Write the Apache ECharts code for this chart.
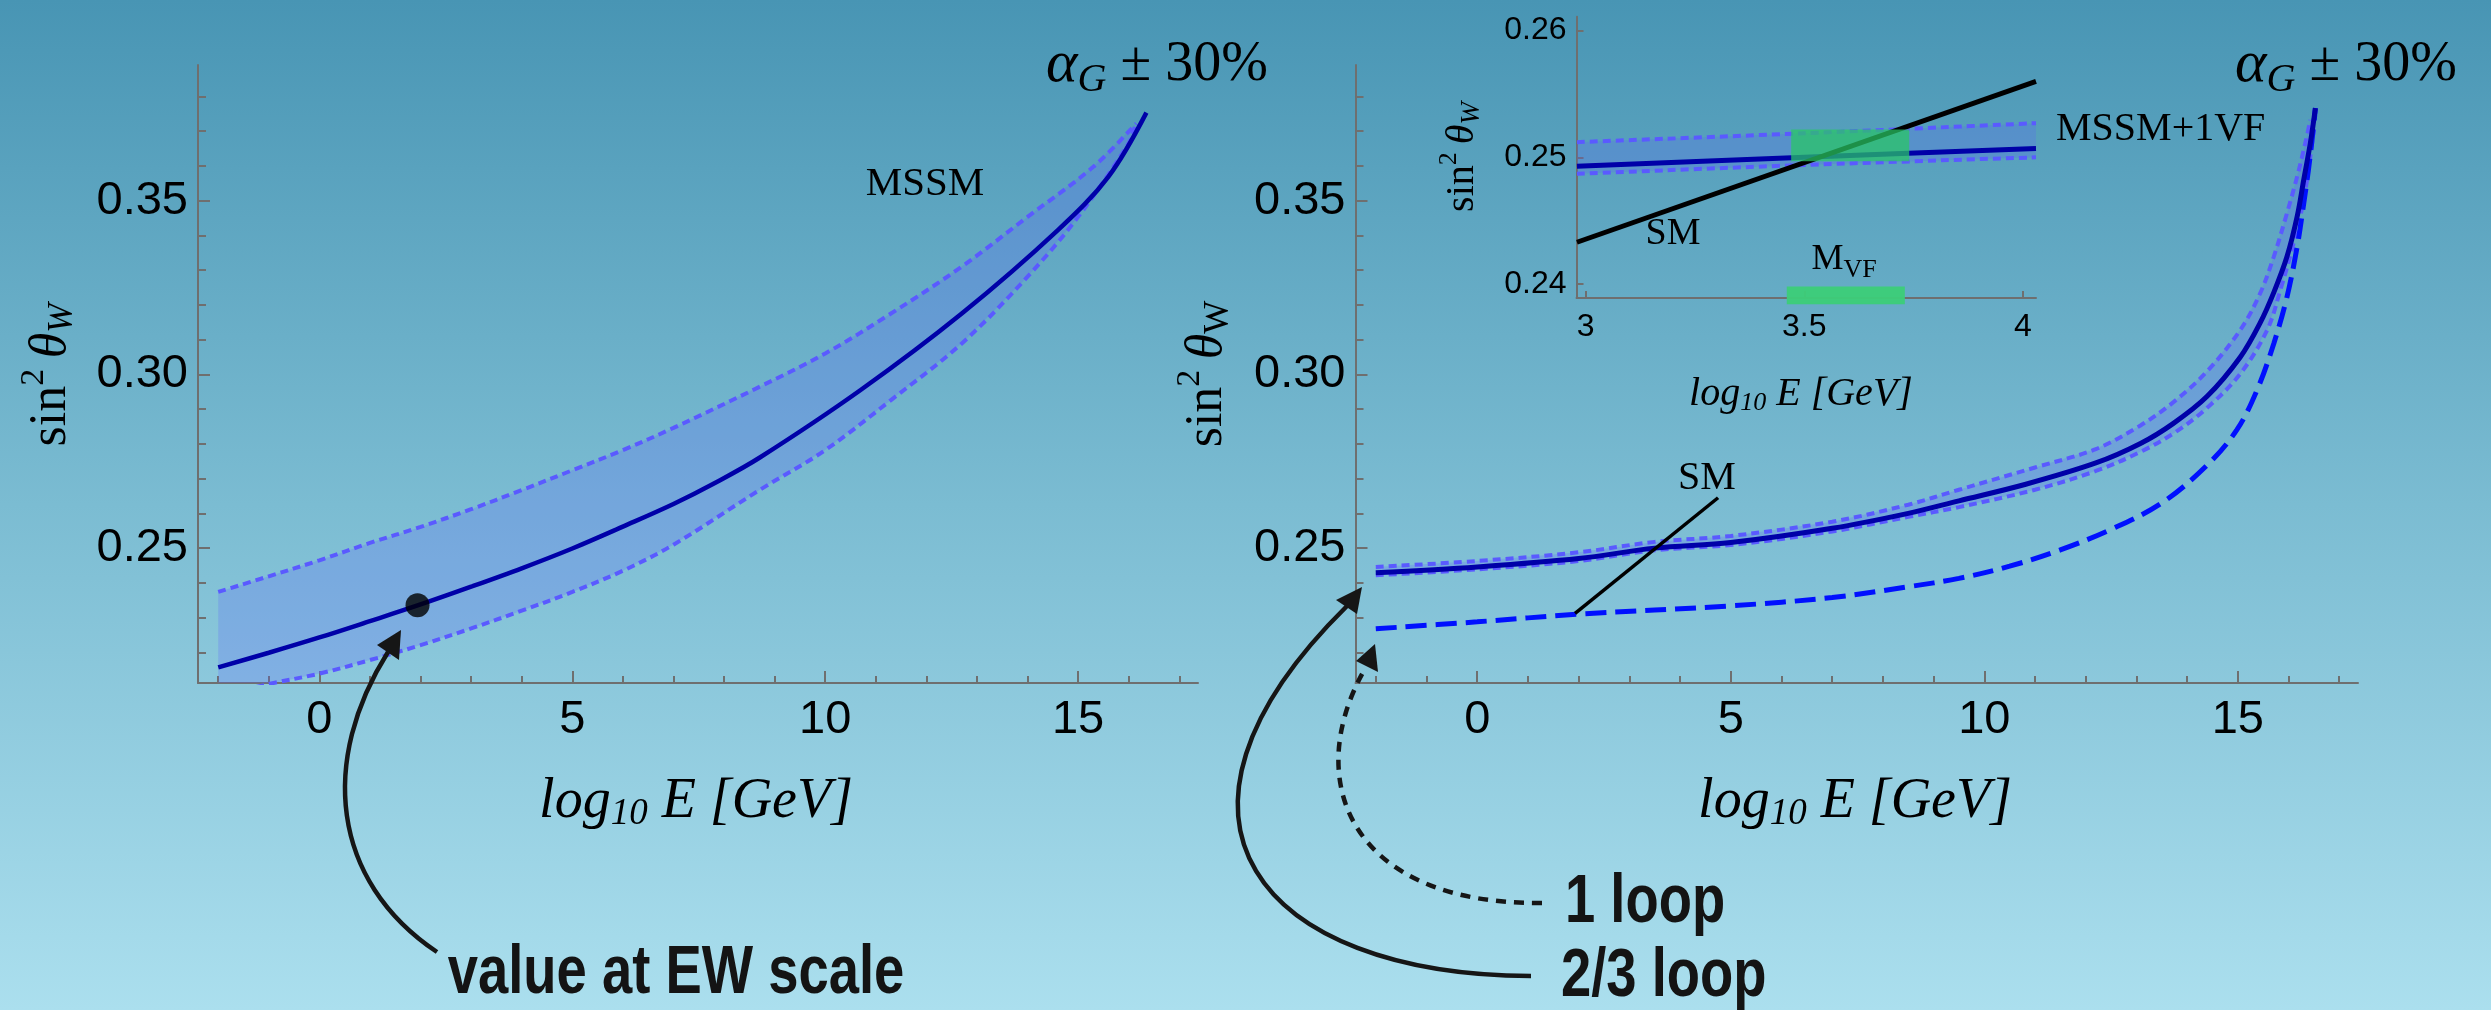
<!DOCTYPE html>
<html><head><meta charset="utf-8">
<script src="https://cdn.jsdelivr.net/npm/echarts@6/dist/echarts.min.js"></script>
<style>
html,body{margin:0;padding:0;}
#c{width:2491px;height:1010px;background:linear-gradient(to bottom,#4895b4 0%,#7bbcd2 50%,#abdfee 100%);}
</style></head><body><div id="c"></div>
<script>
// ---------------- DATA ----------------
// Left panel: MSSM (2-loop), band = alpha_G +/- 30%
const mssmCentral = [[-2,0.2157],[-1,0.2199],[0,0.2243],[1,0.2290],[2,0.2338],[3,0.2389],[4,0.2442],[5,0.2499],[6,0.2562],[7,0.2627],[7.8,0.2686],[8.7,0.2760],[10.7,0.2955],[12.7,0.3175],[14.6,0.3415],[15.6,0.3569],[16.35,0.3753]];
const mssmUpper = [[-2,0.2374],[-1,0.2419],[0,0.2465],[1,0.2515],[2,0.2561],[3,0.2612],[4,0.2667],[5,0.2724],[6,0.2782],[7,0.2846],[8.7,0.2964],[10,0.3060],[11.3,0.3175],[12.7,0.3310],[14,0.3453],[15.3,0.3597],[16.15,0.3722]];
const mssmLower = [[-2,0.2075],[-1,0.2109],[0,0.2139],[1,0.2178],[2,0.2221],[3,0.2269],[4,0.2320],[5,0.2374],[6,0.2435],[7,0.2510],[8.7,0.2667],[10,0.2782],[11.3,0.2926],[12.7,0.3089],[14,0.3281],[15,0.3453],[16,0.3665],[16.12,0.3712]];
const ewPoint = [[1.94,0.2336]];

// Right panel: MSSM+1VF
const vfCentral = [[-2,0.2429],[0,0.2446],[2,0.2470],[3.5,0.2500],[5,0.2516],[7,0.2557],[8.5,0.2600],[9.5,0.2636],[10.8,0.2683],[12.2,0.2745],[13.08,0.2801],[13.73,0.2859],[14.39,0.2936],[15.05,0.3050],[15.44,0.3148],[15.71,0.3236],[15.97,0.3339],[16.17,0.3454],[16.3,0.3560],[16.43,0.3665],[16.53,0.3766]];
const vfUpper = [[-2,0.2446],[0,0.2463],[2,0.2488],[3.5,0.2518],[5,0.2535],[7,0.2576],[8.5,0.2625],[9.5,0.2668],[11,0.2732],[12.2,0.2785],[13.08,0.2853],[13.73,0.2920],[14.39,0.3008],[15.05,0.3128],[15.44,0.3233],[15.71,0.3339],[15.97,0.3464],[16.17,0.3569],[16.33,0.3665],[16.43,0.3732]];
const vfLower = [[-2,0.2422],[0,0.2439],[2,0.2463],[3.5,0.2494],[5,0.2509],[7,0.2548],[8.5,0.2590],[9.5,0.2618],[11,0.2668],[12.2,0.2722],[13.08,0.2777],[13.73,0.2830],[14.39,0.2903],[15.05,0.3002],[15.58,0.3128],[15.84,0.3243],[16.1,0.3377],[16.3,0.3502],[16.43,0.3627],[16.5,0.3704]];
const vfOneLoop = [[-2,0.2268],[0,0.2288],[2,0.2310],[5,0.2334],[7,0.2358],[8.5,0.2389],[9.5,0.2413],[10.5,0.2448],[11.5,0.2495],[12.5,0.2554],[13.5,0.2630],[14.39,0.2738],[14.98,0.2840],[15.38,0.2955],[15.71,0.3089],[15.97,0.3223],[16.17,0.3367],[16.3,0.3492],[16.4,0.3597],[16.5,0.3722],[16.53,0.3766]];
const smSegment = [[1.93,0.2312],[4.75,0.2645]];

// Inset
const insetSM = [[2.98,0.2433],[4.03,0.2560]];
const insetCentral = [[2.98,0.2493],[3.5,0.2500],[4.03,0.2507]];
const insetUpper = [[2.98,0.2512],[3.5,0.2519],[4.03,0.2527]];
const insetLower = [[2.98,0.2487],[3.5,0.2494],[4.03,0.2500]];
const insetGreenBox = [[3.47,0.2522],[3.74,0.2497]];
const insetGreenBar = [[3.46,0.2398],[3.73,0.2384]];

// Ticks
const xMajorTicks = [0,5,10,15];
const xMinorTicks = [-2,-1,1,2,3,4,6,7,8,9,11,12,13,14,16,17];
const yMajorTicks = [0.25,0.30,0.35];
const yMinorTicks = [0.22,0.23,0.24,0.26,0.27,0.28,0.29,0.31,0.32,0.33,0.34,0.36,0.37,0.38];
const insetXTicks = [3,3.5,4];
const insetYTicks = [0.24,0.25,0.26];

// ---------------- STYLE ----------------
const AX = '#6f6f6f';
const SANS = '"Liberation Sans", Arial, sans-serif';
const SERIF = '"Liberation Serif", "Times New Roman", serif';
const HAND = '"Liberation Sans", sans-serif';
const C_MAIN = '#0000a8';
const C_DOT = '#5a5aff';
const C_BAND = 'rgba(90,90,255,0.22)';

const chart = echarts.init(document.getElementById('c'), null, {renderer:'canvas'});

function xAx(grid, min, max, ticks, isMajor, len, fs, margin, fmt){
  return {type:'value', gridIndex:grid, min:min, max:max, position:'bottom',
    axisLine:{show:isMajor, onZero:false, lineStyle:{color:AX, width:2}},
    axisTick:{show:true, inside:true, length:len, customValues:ticks, lineStyle:{color:AX, width:2}},
    axisLabel:{show:isMajor, customValues:ticks, fontSize:fs, fontFamily:SANS, color:'#000', margin:margin, formatter:fmt},
    splitLine:{show:false}, minorTick:{show:false}};
}
function yAx(grid, min, max, ticks, isMajor, len, fs, margin, fmt){
  return {type:'value', gridIndex:grid, min:min, max:max, position:'left',
    axisLine:{show:isMajor, onZero:false, lineStyle:{color:AX, width:2}},
    axisTick:{show:true, inside:true, length:len, customValues:ticks, lineStyle:{color:AX, width:2}},
    axisLabel:{show:isMajor, customValues:ticks, fontSize:fs, fontFamily:SANS, color:'#000', margin:margin, formatter:fmt},
    splitLine:{show:false}, minorTick:{show:false}};
}
const fx = v => String(v);
const fy = v => v.toFixed(2);

const XMIN=-2.4, XMAX=17.37, YMIN=0.2112, YMAX=0.389;

function line(xi, data, color, width, dash, z){
  return {type:'line', xAxisIndex:xi, yAxisIndex:xi, data:data, showSymbol:false, symbol:'none',
    smooth:0.35, silent:true, z:z||3,
    lineStyle:{color:color, width:width, type: dash || 'solid', cap:'butt'}};
}
function band(xi, up, lo, color){
  return {type:'custom', xAxisIndex:xi, yAxisIndex:xi, clip:true, silent:true, z:1, data:[0],
    renderItem:function(params, api){
      const pts = up.map(p=>api.coord(p)).concat(lo.slice().reverse().map(p=>api.coord(p)));
      return {type:'polygon', shape:{points:pts}, style:{fill:color}};
    }};
}
function rect(xi, pair, color, clip, z){
  return {type:'custom', xAxisIndex:xi, yAxisIndex:xi, clip:clip, silent:true, z:z, data:[0],
    renderItem:function(params, api){
      const a = api.coord(pair[0]), b = api.coord(pair[1]);
      return {type:'rect', shape:{x:Math.min(a[0],b[0]), y:Math.min(a[1],b[1]), width:Math.abs(b[0]-a[0]), height:Math.abs(b[1]-a[1])}, style:{fill:color}};
    }};
}

// text helpers
const mctx = document.createElement('canvas').getContext('2d');
function tw(font, t){ mctx.font = font; return mctx.measureText(t).width; }
function mathText(parts, cx, cy, rot, align){
  let total = 0;
  parts.forEach(p=>{ p.w = tw(p.font, p.t); total += p.w; });
  let x = align === 'left' ? 0 : -total/2;
  const children = parts.map(p=>{
    const el = {type:'text', x:x, y:p.dy||0, silent:true,
      style:{text:p.t, font:p.font, fill:p.fill||'#000', align:'left', verticalAlign:'middle', textAlign:'left', textVerticalAlign:'middle'}};
    x += p.w; return el;
  });
  return {type:'group', x:cx, y:cy, rotation:rot||0, children:children, z:100, silent:true};
}
const it = (s)=>'italic '+s+'px '+SERIF;
const rm = (s)=>s+'px '+SERIF;

function logTitle(cx, cy, s){
  return mathText([{t:'log', font:it(s)},{t:'10', font:it(Math.round(s*0.66)), dy:Math.round(s*0.22)},{t:' E [GeV]', font:it(s)}], cx, cy);
}
function sinTitle(cx, cy, s, upright){
  return mathText([{t:'sin', font:rm(s)},{t:'2', font:rm(Math.round(s*0.66)), dy:-Math.round(s*0.32)},{t:'\u2009θ', font:it(s)},{t:'W', font:(upright?rm:it)(Math.round(s*0.68)), dy:Math.round(s*0.24)}], cx, cy, Math.PI/2);
}
function alphaText(cx, cy){
  return mathText([{t:'α', font:it(60)},{t:'G', font:it(40), dy:15},{t:' ± 30%', font:rm(56)}], cx, cy);
}
function arrowHead(pts){ return {type:'polygon', shape:{points:pts}, style:{fill:'#161616'}, z:90, silent:true}; }
function curve(s, dash){ return {type:'bezierCurve', shape:{x1:s[0],y1:s[1],cpx1:s[2],cpy1:s[3],cpx2:s[4],cpy2:s[5],x2:s[6],y2:s[7]}, style:{stroke:'#161616', lineWidth:4.5, fill:null, lineDash:dash||null}, z:90, silent:true}; }
function handText(t, x, y, align, sx){
  return {type:'text', x:x, y:y, scaleX:sx, scaleY:1, z:100, silent:true, style:{text:t, font:'bold 68px '+HAND, fill:'#141414', align:align, verticalAlign:'middle', textAlign:align, textVerticalAlign:'middle'}};
}

const option = {
  animation:false,
  backgroundColor:'transparent',
  grid:[
    {left:198, top:65, width:1000, height:618, outerBoundsMode:'none'},
    {left:1355.5, top:65, width:1002.5, height:618, outerBoundsMode:'none'},
    {left:1576.5, top:16.7, width:459.5, height:281.3, outerBoundsMode:'none'}
  ],
  xAxis:[
    xAx(0, XMIN, XMAX, xMajorTicks, true, 12, 47, 14, fx),
    xAx(0, XMIN, XMAX, xMinorTicks, false, 7, 47, 14, fx),
    xAx(1, XMIN, XMAX, xMajorTicks, true, 12, 47, 14, fx),
    xAx(1, XMIN, XMAX, xMinorTicks, false, 7, 47, 14, fx),
    xAx(2, 2.979, 4.03, insetXTicks, true, 7, 32, 13, fx)
  ],
  yAxis:[
    yAx(0, YMIN, YMAX, yMajorTicks, true, 12, 47, 10, fy),
    yAx(0, YMIN, YMAX, yMinorTicks, false, 8, 47, 10, fy),
    yAx(1, YMIN, YMAX, yMajorTicks, true, 12, 47, 10, fy),
    yAx(1, YMIN, YMAX, yMinorTicks, false, 8, 47, 10, fy),
    yAx(2, 0.2389, 0.2611, insetYTicks, true, 7, 32, 10, fy)
  ],
  series:[
    // left
    band(0, mssmUpper, mssmLower, C_BAND),
    line(0, mssmUpper, C_DOT, 4, [8,5]),
    line(0, mssmLower, C_DOT, 4, [8,5]),
    line(0, mssmCentral, C_MAIN, 4.5, null, 4),
    {type:'scatter', xAxisIndex:0, yAxisIndex:0, data:ewPoint, symbolSize:24, itemStyle:{color:'#000'}, z:6, silent:true},
    // right
    band(2, vfUpper, vfLower, C_BAND),
    line(2, vfUpper, C_DOT, 4, [8,5]),
    line(2, vfLower, C_DOT, 4, [8,5]),
    line(2, vfOneLoop, '#0010ff', 5, [21,9], 3),
    line(2, vfCentral, C_MAIN, 5, null, 4),
    {type:'line', xAxisIndex:2, yAxisIndex:2, data:smSegment, showSymbol:false, symbol:'none', silent:true, z:5, lineStyle:{color:'#000', width:3.5}},
    // inset
    band(4, insetUpper, insetLower, C_BAND),
    line(4, insetUpper, C_DOT, 4, [8,5]),
    line(4, insetLower, C_DOT, 4, [8,5]),
    line(4, insetCentral, C_MAIN, 5, null, 4),
    {type:'line', xAxisIndex:4, yAxisIndex:4, data:insetSM, showSymbol:false, symbol:'none', silent:true, z:5, lineStyle:{color:'#000', width:5}},
    rect(4, insetGreenBox, 'rgba(40,200,100,0.72)', true, 6),
    rect(4, insetGreenBar, 'rgba(60,205,120,0.95)', false, 6)
  ],
  graphic:[
    logTitle(696, 802, 56),
    logTitle(1855, 802, 56),
    logTitle(1801, 394, 40),
    sinTitle(51, 375, 52, false),
    sinTitle(1207, 374, 52, true),
    sinTitle(1462, 157, 40, false),
    alphaText(1157, 65),
    alphaText(2346, 65),
    mathText([{t:'MSSM', font:rm(41)}], 925, 184),
    mathText([{t:'MSSM+1VF', font:rm(40)}], 2056, 129, 0, 'left'),
    mathText([{t:'SM', font:rm(38)}], 1673, 234),
    mathText([{t:'SM', font:rm(40)}], 1707, 478),
    mathText([{t:'M', font:rm(36)},{t:'VF', font:rm(26), dy:10}], 1844, 260),
    // annotations
    curve([437,952, 330,880, 320,760, 388,652]),
    arrowHead([[401,630],[377,645],[399,660]]),
    curve([1531,976, 1260,975, 1130,820, 1347,606]),
    arrowHead([[1362,587],[1336,600],[1357,614]]),
    curve([1542,903, 1350,905, 1300,780, 1366,667], [10,8]),
    arrowHead([[1375,644],[1356,661],[1378,672]]),
    handText('value at EW scale', 676, 974, 'center', 0.8),
    handText('1 loop', 1565, 903, 'left', 0.8),
    handText('2/3 loop', 1561, 977, 'left', 0.8)
  ]
};
chart.setOption(option);
</script></body></html>
